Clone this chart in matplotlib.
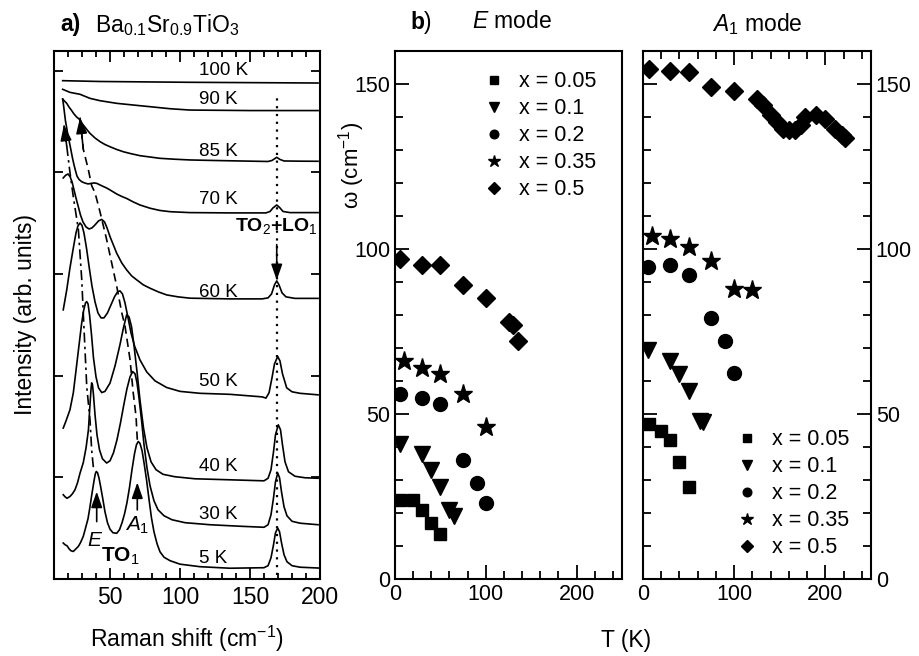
import matplotlib
matplotlib.use("Agg")
import matplotlib.pyplot as plt
from matplotlib.ticker import MultipleLocator
from matplotlib.patches import FancyArrowPatch

plt.rcParams['font.family'] = ['Liberation Sans', 'DejaVu Sans']
plt.rcParams['mathtext.fontset'] = 'custom'
plt.rcParams['mathtext.rm'] = 'Liberation Sans'
plt.rcParams['mathtext.it'] = 'Liberation Sans:italic'
plt.rcParams['mathtext.bf'] = 'Liberation Sans:bold'

# ---------------- (a) Raman spectra, vertically offset ----------------
spec_100K = [(16.2, 4.903), (42.9, 4.895), (107.1, 4.887), (198.6, 4.880)]
spec_90K = [(16.2, 4.818), (21.4, 4.788), (28.6, 4.769), (35.7, 4.729), (42.9, 4.706), (54.8, 4.680),
            (69.1, 4.660), (78.6, 4.647), (92.9, 4.627), (107.1, 4.614), (150, 4.609), (198.6, 4.609)]
spec_85K = [(16.2, 4.722), (17.1, 4.708), (19.1, 4.680), (20.7, 4.644), (22.6, 4.609), (24.3, 4.575),
            (26.2, 4.545), (27.9, 4.526), (29.3, 4.496), (30.9, 4.467), (33.4, 4.423), (35.7, 4.385),
            (39.3, 4.339), (42.9, 4.303), (46.4, 4.275), (50.0, 4.253), (54.8, 4.226), (59.5, 4.204),
            (64.3, 4.187), (71.4, 4.165), (78.6, 4.152), (85.7, 4.139), (96.4, 4.130), (107.1, 4.123),
            (123.6, 4.118), (142.9, 4.113), (162.9, 4.108), (165.7, 4.118), (169.1, 4.149),
            (171.4, 4.128), (174.3, 4.113), (185.7, 4.111), (198.6, 4.110)]
spec_70K = [(16.2, 4.722), (16.8, 4.663), (17.5, 4.585), (18.2, 4.506), (19.1, 4.437), (20.0, 4.359),
            (21.1, 4.290), (22.1, 4.221), (23.2, 4.142), (24.3, 4.074), (25.4, 4.015), (26.4, 3.965),
            (27.9, 3.931), (29.8, 3.909), (31.8, 3.897), (34.3, 3.887), (36.4, 3.892), (38.6, 3.897),
            (40.7, 3.892), (42.9, 3.877), (45.2, 3.862), (47.6, 3.847), (50.0, 3.828), (52.4, 3.808),
            (54.8, 3.788), (58.4, 3.764), (61.9, 3.744), (66.6, 3.710), (71.4, 3.680), (78.6, 3.648),
            (85.7, 3.626), (92.9, 3.614), (107.1, 3.605), (135.7, 3.602), (161.4, 3.602),
            (164.3, 3.616), (166.4, 3.651), (169.1, 3.680), (171.1, 3.656), (173.6, 3.616),
            (178.6, 3.605), (198.6, 3.605)]
spec_60K = [(16.6, 3.946), (18.2, 3.971), (20.0, 3.985), (21.4, 3.961), (22.9, 3.907), (24.3, 3.828),
            (25.7, 3.749), (27.4, 3.661), (28.9, 3.582), (30.7, 3.513), (32.9, 3.464), (35.0, 3.444),
            (37.1, 3.454), (39.3, 3.484), (41.8, 3.523), (44.1, 3.538), (46.1, 3.513), (47.9, 3.454),
            (50.0, 3.369), (52.4, 3.287), (54.8, 3.205), (58.4, 3.110), (61.9, 3.041), (65.5, 2.982),
            (69.1, 2.943), (73.8, 2.894), (78.6, 2.861), (84.5, 2.825), (90.5, 2.795), (98.6, 2.776),
            (107.1, 2.763), (135.7, 2.756), (158.6, 2.756), (162.9, 2.766), (165.4, 2.805),
            (167.5, 2.894), (169.1, 2.933), (170.7, 2.894), (172.9, 2.815), (175.7, 2.776),
            (182.1, 2.761), (198.6, 2.761)]
spec_50K = [(16.6, 2.648), (19.1, 2.845), (21.4, 3.061), (23.8, 3.257), (25.7, 3.405), (27.1, 3.474),
            (28.6, 3.503), (30.0, 3.479), (31.4, 3.405), (33.2, 3.257), (35.0, 3.080), (37.1, 2.884),
            (39.3, 2.727), (41.4, 2.618), (43.6, 2.569), (45.7, 2.569), (48.2, 2.618), (50.7, 2.697),
            (53.2, 2.776), (55.4, 2.825), (57.1, 2.835), (58.9, 2.805), (60.7, 2.717), (62.9, 2.569),
            (65.0, 2.422), (67.5, 2.294), (71.4, 2.156), (76.2, 2.038), (82.1, 1.950), (90.5, 1.884),
            (100.0, 1.846), (114.3, 1.827), (135.7, 1.817), (158.6, 1.792), (161.4, 1.780),
            (163.6, 1.832), (165.7, 1.979), (167.5, 2.117), (169.8, 2.189), (171.4, 2.146),
            (173.2, 2.019), (176.2, 1.881), (180.0, 1.842), (185.7, 1.827), (198.6, 1.812)]
spec_40K = [(16.6, 1.485), (18.6, 1.556), (21.4, 1.665), (23.8, 1.832), (26.2, 2.107), (27.9, 2.304),
            (29.6, 2.500), (31.1, 2.638), (32.5, 2.717), (33.4, 2.729), (34.3, 2.707), (35.4, 2.598),
            (36.8, 2.402), (38.2, 2.176), (40.0, 1.989), (41.8, 1.881), (44.1, 1.834), (46.4, 1.846),
            (50.0, 1.927), (53.6, 2.097), (57.1, 2.304), (59.6, 2.471), (61.9, 2.599), (63.6, 2.579),
            (65.4, 2.481), (67.1, 2.304), (69.3, 2.038), (71.4, 1.763), (73.9, 1.488), (76.4, 1.291),
            (79.3, 1.153), (82.9, 1.075), (87.9, 1.030), (96.4, 1.006), (110.7, 0.986),
            (135.7, 0.976), (160.0, 0.966), (162.9, 0.991), (165.0, 1.075), (166.8, 1.252),
            (168.2, 1.419), (170.2, 1.517), (171.8, 1.468), (173.2, 1.321), (175.0, 1.153),
            (177.5, 1.055), (182.1, 1.011), (189.3, 0.996), (198.6, 0.991)]
spec_30K = [(16.6, 0.829), (17.9, 0.809), (19.3, 0.794), (21.4, 0.812), (23.2, 0.839), (25.0, 0.878),
            (26.8, 0.947), (28.6, 1.042), (30.9, 1.144), (32.9, 1.291), (34.6, 1.468), (35.7, 1.714),
            (36.4, 1.861), (36.9, 1.930), (37.5, 1.910), (38.2, 1.812), (39.3, 1.615), (40.7, 1.419),
            (42.5, 1.271), (44.6, 1.183), (47.6, 1.141), (50.0, 1.163), (52.5, 1.242), (55.0, 1.370),
            (57.5, 1.537), (60.0, 1.724), (62.1, 1.871), (64.3, 1.989), (66.2, 2.041), (67.9, 2.019),
            (69.3, 1.930), (70.7, 1.783), (72.5, 1.566), (74.3, 1.321), (76.4, 1.095), (78.6, 0.917),
            (81.4, 0.770), (84.3, 0.681), (88.6, 0.622), (94.3, 0.583), (103.6, 0.554),
            (121.4, 0.534), (142.9, 0.519), (160.0, 0.509), (162.9, 0.534), (165.0, 0.632),
            (166.8, 0.799), (168.2, 0.957), (169.8, 1.042), (171.1, 0.996), (172.5, 0.858),
            (174.3, 0.711), (176.4, 0.622), (180.0, 0.568), (185.7, 0.549), (198.6, 0.534)]
spec_5K = [(16.6, 0.354), (17.9, 0.337), (19.3, 0.327), (20.7, 0.298), (22.1, 0.278), (23.8, 0.271),
           (25.4, 0.293), (27.4, 0.321), (28.9, 0.357), (30.9, 0.419), (32.5, 0.500), (34.3, 0.593),
           (35.7, 0.711), (37.1, 0.839), (38.6, 0.967), (39.5, 1.035), (40.2, 1.058), (41.1, 1.045),
           (42.1, 0.996), (43.2, 0.917), (44.6, 0.809), (46.4, 0.662), (48.2, 0.554), (50.0, 0.490),
           (52.1, 0.455), (54.8, 0.450), (56.8, 0.485), (58.6, 0.554), (60.4, 0.642), (62.1, 0.750),
           (63.9, 0.898), (65.7, 1.075), (67.5, 1.232), (68.9, 1.321), (70.2, 1.353), (71.4, 1.335),
           (72.9, 1.262), (74.3, 1.144), (76.1, 0.976), (77.9, 0.780), (79.6, 0.603), (81.4, 0.465),
           (83.6, 0.347), (85.7, 0.268), (88.6, 0.214), (92.9, 0.180), (100.0, 0.146),
           (114.3, 0.121), (135.7, 0.106), (160.0, 0.111), (162.9, 0.131), (165.0, 0.209),
           (166.8, 0.337), (168.2, 0.455), (169.8, 0.501), (171.1, 0.465), (172.5, 0.357),
           (174.3, 0.239), (176.4, 0.170), (180.0, 0.131), (185.7, 0.116), (198.8, 0.108)]

spectra = [spec_100K, spec_90K, spec_85K, spec_70K, spec_60K, spec_50K, spec_40K, spec_30K, spec_5K]
temp_labels = ["100 K", "90 K", "85 K", "70 K", "60 K", "50 K", "40 K", "30 K", "5 K"]
temp_label_y = [5.008, 4.713, 4.204, 3.730, 2.818, 1.943, 1.107, 0.632, 0.206]

# guide lines following the E and A1 components of the soft TO1 mode
guide_E = [(38.1, 1.10), (36.9, 1.27), (35.7, 1.57), (33.4, 1.89), (30.9, 2.62), (29.8, 2.95),
           (27.4, 3.44), (23.8, 3.76), (21.4, 4.00), (19.1, 4.26), (17.1, 4.47)]
guide_A1 = [(69.5, 1.37), (68.6, 1.60), (66.6, 1.83), (64.3, 2.16), (60.7, 2.49), (58.4, 2.62),
            (54.8, 2.88), (51.2, 3.11), (47.6, 3.34), (42.9, 3.61), (39.3, 3.80), (36.9, 3.87),
            (34.5, 4.03), (30.9, 4.23), (28.6, 4.54)]
tolo_shift = 169.1

# ---------------- (b) soft-mode frequencies vs temperature ----------------
conc_labels = ["x = 0.05", "x = 0.1", "x = 0.2", "x = 0.35", "x = 0.5"]
markers = ['s', 'v', 'o', '*', 'D']
marker_sizes = [8.5, 12, 10, 14, 9.5]

E_T_005 = [5, 20, 30, 40, 50]
E_w_005 = [24, 24, 21, 17, 13.5]
E_T_01 = [5, 30, 40, 50, 60, 65]
E_w_01 = [41, 38, 33, 28, 21, 19]
E_T_02 = [5, 30, 50, 75, 90, 100]
E_w_02 = [56, 55, 53, 36, 29, 23]
E_T_035 = [10, 30, 50, 75, 100]
E_w_035 = [66, 64, 62, 56, 46]
E_T_05 = [5, 30, 50, 75, 100, 125, 130, 135]
E_w_05 = [97, 95, 95, 89, 85, 78, 77, 72]

A_T_005 = [7, 20, 30, 40, 50]
A_w_005 = [47, 45, 42, 35.5, 28]
A_T_01 = [5, 30, 40, 50, 62, 66]
A_w_01 = [69.5, 66, 62, 57, 48, 47.5]
A_T_02 = [5, 30, 50, 75, 90, 100]
A_w_02 = [94.5, 95, 92, 79, 72, 62.5]
A_T_035 = [10, 30, 50, 75, 100, 120]
A_w_035 = [104, 103, 100.5, 96.5, 88, 87.5]
A_T_05 = [7, 30, 50, 75, 100, 125, 132, 140, 147, 154, 160, 167, 173, 178, 190, 200, 210, 218, 222]
A_w_05 = [154.5, 154, 153.5, 149, 148, 145.5, 143.5, 140.5, 138.5, 136.5, 136, 136, 137.5,
          140, 140.5, 139.5, 136.5, 134.5, 133.5]

E_sets = [(E_T_005, E_w_005), (E_T_01, E_w_01), (E_T_02, E_w_02), (E_T_035, E_w_035), (E_T_05, E_w_05)]
A_sets = [(A_T_005, A_w_005), (A_T_01, A_w_01), (A_T_02, A_w_02), (A_T_035, A_w_035), (A_T_05, A_w_05)]

W, H = 919, 656
fig = plt.figure(figsize=(W / 100, H / 100), dpi=100)


def box(left, top, right, bottom):
    return [left / W, 1 - bottom / H, (right - left) / W, (bottom - top) / H]


axa = fig.add_axes(box(54, 51, 320, 579))
axe = fig.add_axes(box(395, 51, 622, 579))
axA = fig.add_axes(box(643, 51, 871, 579))

for ax in (axa, axe, axA):
    for s in ax.spines.values():
        s.set_linewidth(1.5)

# ---- panel (a)
for spec in spectra:
    axa.plot([p[0] for p in spec], [p[1] for p in spec], color='k', lw=1.2, solid_joinstyle='round')

for lab, y in zip(temp_labels, temp_label_y):
    axa.text(113.5, y, lab, fontsize=13.5, ha='left', va='center')

axa.plot([p[0] for p in guide_E], [p[1] for p in guide_E], color='k', lw=1.2,
         ls=(0, (6, 2.5, 1.5, 2.5)))
axa.plot([p[0] for p in guide_A1], [p[1] for p in guide_A1], color='k', lw=1.2,
         ls=(0, (5, 3)))
axa.plot([tolo_shift, tolo_shift], [0.04, 4.75], color='k', lw=1.6, ls=(0, (1, 2.5)))


def head(ax, base, tip):
    ax.add_patch(FancyArrowPatch(base, tip, arrowstyle='-|>,head_length=0.8,head_width=0.28',
                                 mutation_scale=12, color='k', lw=1.2, shrinkA=0, shrinkB=0))


head(axa, guide_E[-2], guide_E[-1])
head(axa, guide_A1[-2], guide_A1[-1])
head(axa, (40.5, 0.565), (40.5, 0.86))
head(axa, (69.5, 0.68), (69.5, 0.95))
head(axa, (tolo_shift, 3.29), (tolo_shift, 2.94))

axa.text(tolo_shift, 3.47, r'$\mathbf{TO}_2\mathbf{+LO}_1$', fontsize=14, ha='center', va='center')
axa.text(39.3, 0.38, r'$E$', fontsize=15, ha='center', va='center')
axa.text(69.5, 0.53, r'$A_{\mathrm{1}}$', fontsize=15, ha='center', va='center')
axa.text(57.5, 0.22, r'$\mathbf{TO}_1$', fontsize=15, ha='center', va='center')

axa.set_xlim(10, 200)
axa.set_ylim(0, 5.195)
axa.xaxis.set_major_locator(MultipleLocator(50))
axa.xaxis.set_minor_locator(MultipleLocator(10))
axa.set_yticks([1, 2, 3, 4, 5])
axa.tick_params(which='both', direction='in', top=True, right=True, labelsize=16.5, width=1.3)
axa.tick_params(axis='x', which='major', length=8, pad=5)
axa.tick_params(axis='x', which='minor', length=4.5)
axa.tick_params(axis='y', which='major', length=6.5, labelleft=False)
axa.set_xlabel('Raman shift (cm$^{-1}$)', fontsize=16.5, labelpad=11)
axa.set_ylabel('Intensity (arb. units)', fontsize=16.5, labelpad=12)

fig.text(60 / W, 1 - 25 / H, 'a)', fontsize=16.5, fontweight='bold', ha='left', va='center')
fig.text(95 / W, 1 - 25 / H, r'$\mathrm{Ba}_{0.1}\mathrm{Sr}_{0.9}\mathrm{TiO}_3$', fontsize=16.5,
         ha='left', va='center')

# ---- panel (b)
for ax, sets in ((axe, E_sets), (axA, A_sets)):
    for (T, w), m, ms in zip(sets, markers, marker_sizes):
        ax.plot(T, w, m, color='k', ms=ms, ls='none')
    ax.set_xlim(0, 250)
    ax.set_ylim(0, 160)
    ax.xaxis.set_major_locator(MultipleLocator(100))
    ax.xaxis.set_minor_locator(MultipleLocator(20))
    ax.yaxis.set_major_locator(MultipleLocator(50))
    ax.yaxis.set_minor_locator(MultipleLocator(10))
    ax.tick_params(which='both', direction='in', labelsize=15.5, width=1.3)
    ax.tick_params(which='major', length=10)
    ax.tick_params(which='minor', length=5.5)

axe.tick_params(which='both', top=False, right=False)
axA.tick_params(which='both', top=True, left=True, right=True, labelleft=False, labelright=True)

handles = [plt.Line2D([], [], marker=m, color='k', ls='none', ms=ms) for m, ms in zip(markers, marker_sizes)]
leg_kw = dict(frameon=False, fontsize=15.5, markerscale=0.62, handlelength=1.0, handletextpad=0.65,
              labelspacing=0.28, borderpad=0, borderaxespad=0, loc='upper left')
axe.legend(handles, conc_labels, bbox_to_anchor=(0.39, 0.962), **leg_kw)
axA.legend(handles, conc_labels, bbox_to_anchor=(0.41, 0.284), **leg_kw)

fig.text(410 / W, 1 - 22 / H, r'$\mathbf{b}$)', fontsize=16.5, ha='left', va='center')
fig.text(512 / W, 1 - 22 / H, r'$E$ mode', fontsize=16.5, ha='center', va='center')
fig.text(757 / W, 1 - 24 / H, r'$A_{\mathrm{1}}$ mode', fontsize=16.5, ha='center', va='center')
fig.text(352 / W, 1 - 165 / H, 'ω (cm$^{-1}$)', fontsize=16, rotation=90, ha='center', va='center')
fig.text(626 / W, 1 - 640 / H, 'T (K)', fontsize=16.5, ha='center', va='center')

fig.savefig('out.png', dpi=100)
